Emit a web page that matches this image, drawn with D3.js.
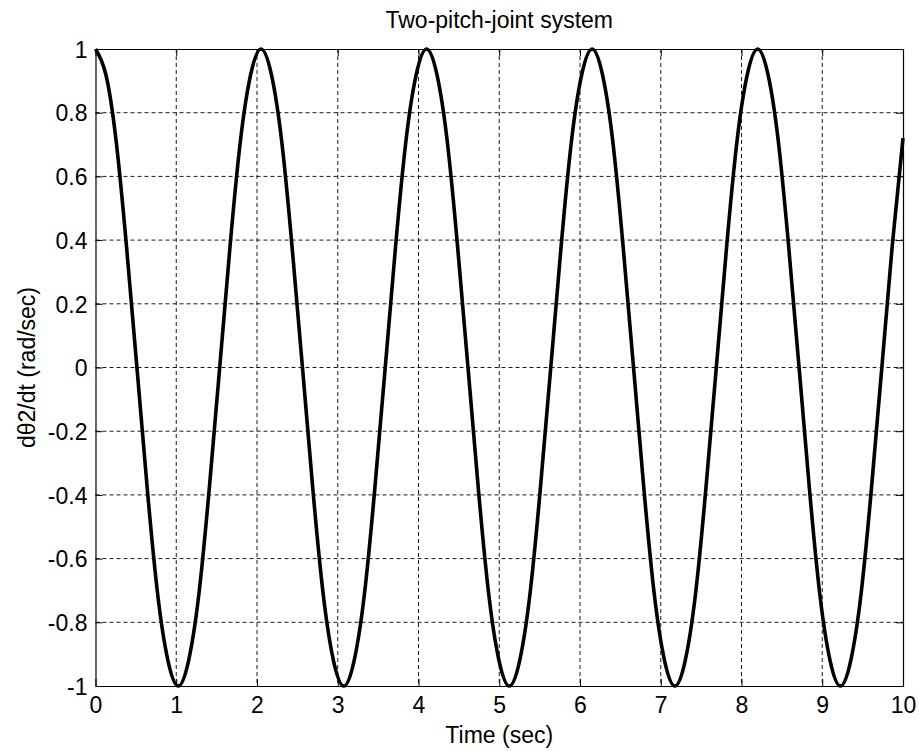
<!DOCTYPE html>
<html>
<head>
<meta charset="utf-8">
<script src="https://cdn.jsdelivr.net/npm/d3@7"></script>
<style>
  html, body { margin: 0; padding: 0; background: #fff; }
  svg { display: block; }
  text { font-family: "Liberation Sans", Arial, Helvetica, sans-serif; fill: #000; }
</style>
</head>
<body>
<svg id="chart" width="919" height="751"></svg>
<script>
// ---- data ----
const titleText = "Two-pitch-joint system";
const xLabelText = "Time (sec)";
const yLabelText = "dθ2/dt (rad/sec)";

const xTicks = [0, 1, 2, 3, 4, 5, 6, 7, 8, 9, 10];
const yTicks = [-1, -0.8, -0.6, -0.4, -0.2, 0, 0.2, 0.4, 0.6, 0.8, 1];

const timeSec = [
  0, 0.128, 0.256, 0.384, 0.513, 0.641, 0.769, 0.897,
  1.025, 1.153, 1.281, 1.409, 1.538, 1.666, 1.794, 1.922,
  2.05, 2.178, 2.306, 2.434, 2.563, 2.691, 2.819, 2.947,
  3.075, 3.203, 3.331, 3.459, 3.588, 3.716, 3.844, 3.972,
  4.1, 4.228, 4.356, 4.484, 4.613, 4.741, 4.869, 4.997,
  5.125, 5.253, 5.381, 5.509, 5.638, 5.766, 5.894, 6.022,
  6.15, 6.278, 6.406, 6.534, 6.663, 6.791, 6.919, 7.047,
  7.175, 7.303, 7.431, 7.559, 7.688, 7.816, 7.944, 8.072,
  8.2, 8.328, 8.456, 8.584, 8.713, 8.841, 8.969, 9.097,
  9.225, 9.353, 9.481, 9.609, 9.738, 9.866, 10
];
const dTheta2 = [
  1, 0.92, 0.71, 0.38, 0, -0.38, -0.71, -0.92,
  -1, -0.92, -0.71, -0.38, 0, 0.38, 0.71, 0.92,
  1, 0.92, 0.71, 0.38, 0, -0.38, -0.71, -0.92,
  -1, -0.92, -0.71, -0.38, 0, 0.38, 0.71, 0.92,
  1, 0.92, 0.71, 0.38, 0, -0.38, -0.71, -0.92,
  -1, -0.92, -0.71, -0.38, 0, 0.38, 0.71, 0.92,
  1, 0.92, 0.71, 0.38, 0, -0.38, -0.71, -0.92,
  -1, -0.92, -0.71, -0.38, 0, 0.38, 0.71, 0.92,
  1, 0.92, 0.71, 0.38, 0, -0.38, -0.71, -0.92,
  -1, -0.92, -0.71, -0.38, 0, 0.38, 0.72
];

// ---- layout ----
const L = 95.5, R = 903, T = 49, B = 686;
const FS = 23;
const svg = d3.select("#chart");

const x = d3.scaleLinear().domain([0, 10]).range([L, R]);
const y = d3.scaleLinear().domain([-1, 1]).range([B, T]);

const g = svg.append("g");

// grid
const grid = g.append("g").attr("stroke", "#000").attr("stroke-width", 0.9)
  .attr("stroke-dasharray", "4,3").attr("fill", "none");
xTicks.slice(1, -1).forEach(t => {
  grid.append("line").attr("x1", x(t)).attr("x2", x(t)).attr("y1", T).attr("y2", B);
});
yTicks.slice(1, -1).forEach(t => {
  grid.append("line").attr("x1", L).attr("x2", R).attr("y1", y(t)).attr("y2", y(t));
});

// axes (ticks inward, MATLAB style)
const tickLen = 7;
const fmt = d => String(+(+d).toFixed(1));
const axB = g.append("g").attr("transform", `translate(0,${B})`)
  .call(d3.axisBottom(x).tickValues(xTicks).tickSizeInner(-tickLen).tickSizeOuter(0).tickPadding(11).tickFormat(fmt));
const axT = g.append("g").attr("transform", `translate(0,${T})`)
  .call(d3.axisTop(x).tickValues(xTicks).tickSizeInner(-tickLen).tickSizeOuter(0).tickFormat(""));
const axL = g.append("g").attr("transform", `translate(${L},0)`)
  .call(d3.axisLeft(y).tickValues(yTicks).tickSizeInner(-tickLen).tickSizeOuter(0).tickPadding(8).tickFormat(fmt));
const axR = g.append("g").attr("transform", `translate(${R},0)`)
  .call(d3.axisRight(y).tickValues(yTicks).tickSizeInner(-tickLen).tickSizeOuter(0).tickFormat(""));

[axB, axT, axL, axR].forEach(a => {
  a.select(".domain").attr("stroke", "#000").attr("stroke-width", 1.2);
  a.selectAll(".tick line").attr("stroke", "#000").attr("stroke-width", 1);
  a.selectAll("text").attr("font-size", FS).attr("font-family", "Liberation Sans, Arial, sans-serif").attr("fill", "#000");
});
axL.selectAll("text").attr("dy", "0.36em");

// curve
const pts = timeSec.map((t, i) => [t, dTheta2[i]]);
g.append("path")
  .datum(pts)
  .attr("fill", "none")
  .attr("stroke", "#000")
  .attr("stroke-width", 3.6)
  .attr("stroke-linejoin", "round")
  .attr("d", d3.line().x(d => x(d[0])).y(d => y(d[1])).curve(d3.curveNatural));

// title & labels
svg.append("text").attr("x", (L + R) / 2).attr("y", 28).attr("text-anchor", "middle")
  .attr("font-size", FS).text(titleText);
svg.append("text").attr("x", (L + R) / 2).attr("y", 743).attr("text-anchor", "middle")
  .attr("font-size", FS).text(xLabelText);
svg.append("text").attr("transform", `translate(35,${(T + B) / 2}) rotate(-90)`)
  .attr("text-anchor", "middle").attr("font-size", FS).text(yLabelText);
</script>
</body>
</html>
